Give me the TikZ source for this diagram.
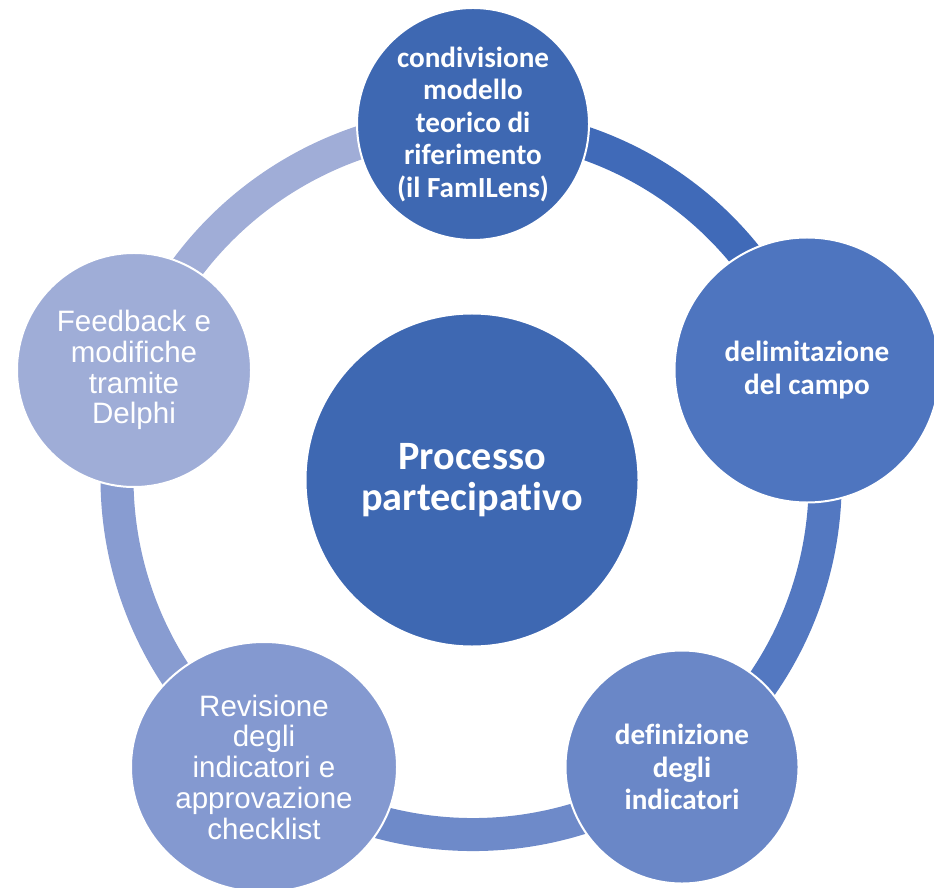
\documentclass[tikz,border=0pt]{standalone}
\usepackage{fontspec}
\setmainfont{Carlito}[Ligatures=NoCommon]
\newfontfamily\arialfont{Liberation Sans}
\usepackage{xcolor}
\usepackage{tikz}
\usetikzlibrary{shapes.geometric,backgrounds}

\definecolor{fillA}{HTML}{3E68B2}
\definecolor{fillB}{HTML}{4E75BF}
\definecolor{fillC}{HTML}{6A87C7}
\definecolor{fillD}{HTML}{8499D0}
\definecolor{fillE}{HTML}{9FADD7}
\definecolor{ringA}{HTML}{406AB8}
\definecolor{ringB}{HTML}{5378C1}
\definecolor{ringC}{HTML}{6E8AC9}
\definecolor{ringD}{HTML}{889CD1}
\definecolor{ringE}{HTML}{A0ADD7}

\begin{document}
\begin{tikzpicture}[x=0.2mm,y=0.2mm,
		stage/.style={circle,fill=#1,draw=white,line width=0.4mm,inner sep=0pt,text=white,align=center},
		boldtxt/.style={font=\bfseries\fontsize{16.6}{18.5}\selectfont},
		plaintxt/.style={font=\arialfont\fontsize{16.8}{17.5}\selectfont},
		ring/.style={line width=6.6mm,draw=#1}]
		\useasboundingbox (0,0) rectangle (934,887);
		\node[stage=fillA,minimum size=66.6mm,font=\bfseries\fontsize{22.9}{23.3}\selectfont] (proc) at (472,407) {Processo\\partecipativo};
		\node[stage=fillA,boldtxt,minimum size=46.4mm] (model) at (473,763) {condivisione\\modello\\teorico di\\riferimento\\(il FamILens)};
		\node[stage=fillB,boldtxt,minimum size=53mm] (campo) at (807,517) {delimitazione\\del campo};
		\node[stage=fillC,boldtxt,minimum size=46.6mm] (defin) at (682,120) {definizione\\degli\\indicatori};
		\node[stage=fillD,ellipse,plaintxt,minimum width=53.2mm,minimum height=50mm] (revis) at (264,120) {Revisione\\degli\\indicatori e\\approvazione\\checklist};
		\node[stage=fillE,plaintxt,minimum size=46.8mm] (delphi) at (134,517) {Feedback e\\modifiche\\tramite\\Delphi};
		\begin{pgfonlayer}{background}
			\draw[ring=ringA] (model.center) to[bend left=36,looseness=0.94] (campo.center);
			\draw[ring=ringB] (campo.center) to[bend left=36,looseness=0.94] (defin.center);
			\draw[ring=ringC] (defin.center) to[bend left=36,looseness=0.94] (revis.center);
			\draw[ring=ringD] (revis.center) to[bend left=36,looseness=0.94] (delphi.center);
			\draw[ring=ringE] (delphi.center) to[bend left=36,looseness=0.94] (model.center);
		\end{pgfonlayer}
	\end{tikzpicture}
\end{document}
